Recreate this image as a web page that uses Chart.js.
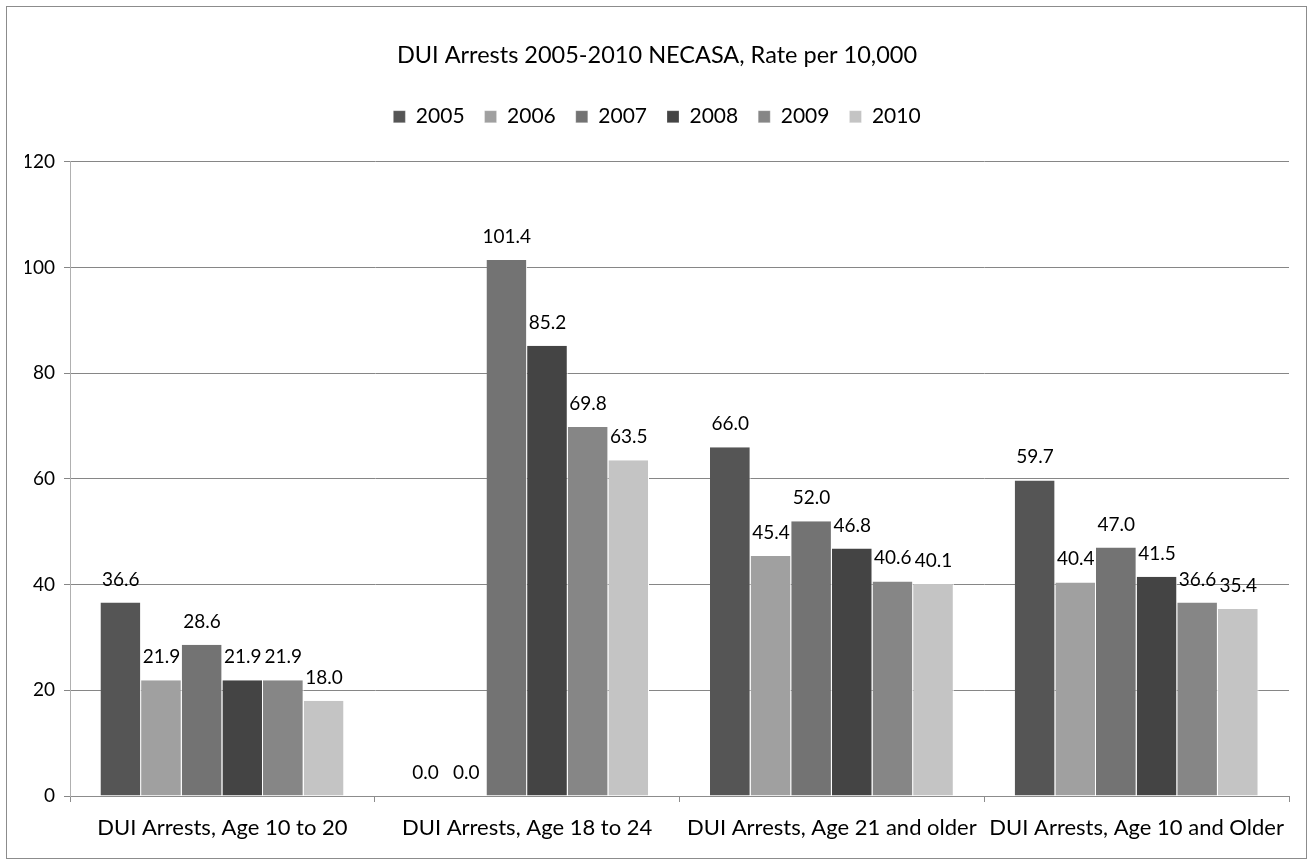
<!DOCTYPE html>
<html>
<head>
<meta charset="utf-8">
<script src="https://cdn.jsdelivr.net/npm/chart.js@4"></script>
<style>
  html, body { margin: 0; padding: 0; background: #fff; }
  #wrap { position: relative; width: 1314px; height: 867px; }
</style>
</head>
<body>
<div id="wrap"><canvas id="c"></canvas></div>
<script>
// DUI arrests per 10,000, NECASA
const categories = [
    'DUI Arrests, Age 10 to 20',
    'DUI Arrests, Age 18 to 24',
    'DUI Arrests, Age 21 and older',
    'DUI Arrests, Age 10 and Older'
];
const years = ['2005', '2006', '2007', '2008', '2009', '2010'];
const v2005 = [36.6, 0.0, 66.0, 59.7];
const v2006 = [21.9, 0.0, 45.4, 40.4];
const v2007 = [28.6, 101.4, 52.0, 47.0];
const v2008 = [21.9, 85.2, 46.8, 41.5];
const v2009 = [21.9, 69.8, 40.6, 36.6];
const v2010 = [18.0, 63.5, 40.1, 35.4];
const yTicks = [0, 20, 40, 60, 80, 100, 120];

const seriesValues = [v2005, v2006, v2007, v2008, v2009, v2010];
const seriesColors = ['#555555', '#a0a0a0', '#737373', '#444444', '#868686', '#c4c4c4'];
const FONT = 'Lato, "Liberation Sans", sans-serif';

// white background + thin frame round the whole chart
const framePlugin = {
    id: 'frame',
    beforeDraw(chart) {
        const ctx = chart.ctx;
        ctx.save();
        ctx.fillStyle = '#ffffff';
        ctx.fillRect(0, 0, chart.width, chart.height);
        ctx.strokeStyle = '#8c8c8c';
        ctx.lineWidth = 1;
        ctx.strokeRect(6.5, 6.5, 1300, 852);
        ctx.restore();
    }
};

// adds empty room under the legend so the plot starts lower
const legendGapPlugin = {
    id: 'legendGap',
    beforeLayout(chart) {
        const lg = chart.legend;
        if (lg && !lg._gapPatched) {
            const fit = lg.fit.bind(lg);
            lg.fit = function () {
                fit();
                this.height += 24.5;
            };
            lg._gapPatched = true;
        }
    }
};

// value labels above each bar
const valueLabels = {
    id: 'valueLabels',
    afterDatasetsDraw(chart) {
        const ctx = chart.ctx;
        ctx.save();
        ctx.font = '19px ' + FONT;
        ctx.fillStyle = '#000000';
        ctx.textAlign = 'center';
        ctx.textBaseline = 'alphabetic';
        chart.data.datasets.forEach((ds, i) => {
            const meta = chart.getDatasetMeta(i);
            meta.data.forEach((bar, j) => {
                ctx.fillText(ds.data[j].toFixed(1), bar.x, bar.y - 17);
            });
        });
        ctx.restore();
    }
};

const datasets = years.map((y, i) => ({
    label: y,
    data: seriesValues[i],
    backgroundColor: seriesColors[i],
    borderColor: '#ffffff',
    borderWidth: { left: 0, right: 1, top: 0, bottom: 0 },
    borderSkipped: false,
    categoryPercentage: 0.8,
    barPercentage: 1.0
}));

new Chart(document.getElementById('c').getContext('2d'), {
    type: 'bar',
    data: { labels: categories, datasets: datasets },
    options: {
        responsive: true,
        maintainAspectRatio: false,
        animation: false,
        layout: { padding: { left: 25, right: 25, top: 0, bottom: 0 } },
        plugins: {
            title: {
                display: true,
                text: 'DUI Arrests 2005-2010 NECASA, Rate per 10,000',
                color: '#000000',
                font: { family: FONT, size: 23.5, weight: 'normal', lineHeight: 1.2 },
                padding: { top: 41, bottom: 17 }
            },
            legend: {
                display: true,
                position: 'top',
                labels: {
                    color: '#000000',
                    font: { family: FONT, size: 21 },
                    boxWidth: 12,
                    boxHeight: 12,
                    padding: 20
                }
            },
            tooltip: { enabled: false }
        },
        scales: {
            x: {
                grid: {
                    display: true,
                    drawOnChartArea: false,
                    offset: true,
                    tickLength: 6,
                    color: '#8c8c8c'
                },
                border: { display: true, color: '#8c8c8c' },
                ticks: {
                    color: '#000000',
                    font: { family: FONT, size: 22 },
                    padding: 13,
                    maxRotation: 0,
                    autoSkip: false
                },
                afterFit(scale) { scale.height = 71; }
            },
            y: {
                min: 0,
                max: 120,
                afterBuildTicks(scale) { scale.ticks = yTicks.map(v => ({ value: v })); },
                grid: {
                    color: '#868686',
                    tickLength: 6
                },
                border: { display: true, color: '#b0b0b0' },
                ticks: {
                    color: '#000000',
                    font: { family: FONT, size: 19 },
                    padding: 9
                },
                afterFit(scale) { scale.width = 45; }
            }
        }
    },
    plugins: [framePlugin, legendGapPlugin, valueLabels]
});
</script>
</body>
</html>
